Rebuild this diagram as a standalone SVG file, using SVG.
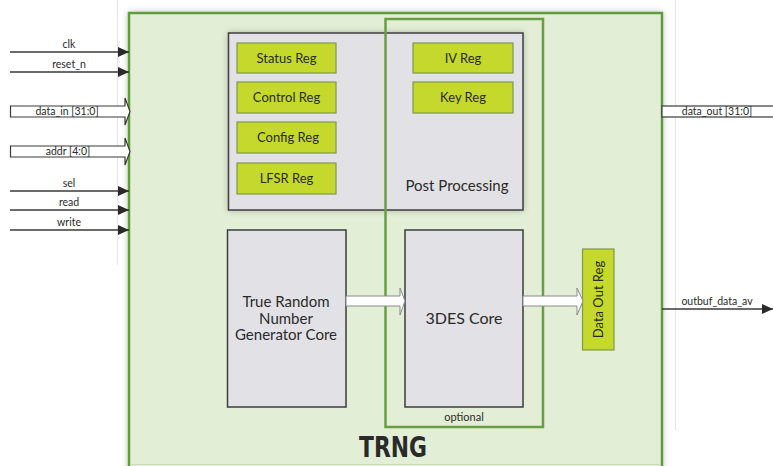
<svg xmlns="http://www.w3.org/2000/svg" width="773" height="466" viewBox="0 0 773 466">
<style>
.lbl{font-family:Lato,"Open Sans","Liberation Sans",sans-serif;fill:#2a2a2a}
.sig{font-size:10.5px;text-anchor:middle}
.reg rect{fill:#c4d92b;stroke:#7f9a4a;stroke-width:1.2}
.reg text{font-size:13px;text-anchor:middle;font-family:Lato,"Open Sans","Liberation Sans",sans-serif;fill:#2a2a2a}
.panel{fill:#e2e2e6;stroke:#3c3c3c;stroke-width:1.5}
.wire{stroke:#3a3a3a;stroke-width:1.5;fill:none}
.bus{fill:#fff;stroke:#3a3a3a;stroke-width:1.2}
.fat{fill:#fff;stroke:#8a8a8a;stroke-width:1}
</style>
<defs>
<marker id="ah" viewBox="0 0 11 10" refX="11" refY="5" markerWidth="11" markerHeight="10" markerUnits="userSpaceOnUse" orient="auto"><path d="M0,0 L11,5 L0,10 Z" fill="#2a2a2a"/></marker>
<filter id="sh" x="-10%" y="-10%" width="120%" height="120%"><feGaussianBlur in="SourceAlpha" stdDeviation="3"/><feComponentTransfer><feFuncA type="linear" slope="0.25"/></feComponentTransfer><feMerge><feMergeNode/><feMergeNode in="SourceGraphic"/></feMerge></filter>
</defs>
<rect width="773" height="466" fill="#fff"/>
<line x1="117.5" y1="0" x2="117.5" y2="265" stroke="#e6e6e6" stroke-width="1"/>
<line x1="675.5" y1="0" x2="675.5" y2="430" stroke="#e6e6e6" stroke-width="1"/>

<g id="trng">
<rect x="129" y="13" width="533" height="458" fill="#e3eed6" stroke="#5e9c3a" stroke-width="2.5" filter="url(#sh)"/>
<line x1="130" y1="464.5" x2="661" y2="464.5" stroke="#c8dcb4" stroke-width="1"/>
<text x="393" y="457" font-family="'Liberation Sans Narrow','DejaVu Sans Condensed','Liberation Sans',sans-serif" font-weight="bold" font-size="29" text-anchor="middle" fill="#2a2a2a" textLength="68" lengthAdjust="spacingAndGlyphs">TRNG</text>
</g>

<g id="regpanel">
<rect class="panel" x="228.5" y="33" width="294.5" height="177" filter="url(#sh)"/>
<text class="lbl" x="457" y="191" font-size="15" text-anchor="middle">Post Processing</text>
</g>

<g id="status" class="reg"><rect x="237" y="43" width="99" height="30"/><text x="286.5" y="62.5">Status Reg</text></g>
<g id="control" class="reg"><rect x="237" y="82" width="99" height="31"/><text x="286.5" y="102">Control Reg</text></g>
<g id="config" class="reg"><rect x="237" y="122" width="99" height="31"/><text x="288" y="142">Config Reg</text></g>
<g id="lfsr" class="reg"><rect x="237" y="163" width="99" height="31"/><text x="286.5" y="183">LFSR Reg</text></g>
<g id="iv" class="reg"><rect x="413" y="43" width="100" height="30"/><text x="463" y="62.5">IV Reg</text></g>
<g id="key" class="reg"><rect x="413" y="82" width="100" height="31"/><text x="463" y="102">Key Reg</text></g>

<g id="trngcore">
<rect class="panel" x="227.5" y="230" width="118.5" height="177"/>
<text class="lbl" font-size="15" text-anchor="middle"><tspan x="286" y="307">True Random</tspan><tspan x="286" y="323.5">Number</tspan><tspan x="286" y="340">Generator Core</tspan></text>
</g>

<g id="des">
<rect class="panel" x="405" y="230" width="118" height="177"/>
<text class="lbl" x="464" y="324" font-size="16" text-anchor="middle">3DES Core</text>
</g>

<g id="optional">
<rect x="385.5" y="19" width="157.5" height="408" fill="none" stroke="#6a9e45" stroke-width="2.5"/>
<text class="lbl" x="464" y="421" font-size="11" text-anchor="middle">optional</text>
</g>

<g id="dataout" class="reg">
<rect x="582.5" y="249" width="31.5" height="101"/>
<text transform="translate(602.5,299.5) rotate(-90)" x="0" y="0" font-size="12">Data Out Reg</text>
</g>

<g id="connectors">
<polygon class="fat" points="346,296 400,296 400,288 405,301 400,315 400,306 346,306"/>
<polygon class="fat" points="523,296 577,296 577,288 583,301 577,315 577,306 523,306"/>

<line class="wire" x1="10" y1="52" x2="129" y2="52" marker-end="url(#ah)"/>
<line class="wire" x1="10" y1="72" x2="129" y2="72" marker-end="url(#ah)"/>
<polygon class="bus" points="10.5,106 125,106 125,98 130,111.5 125,125 125,117 10.5,117"/>
<polygon class="bus" points="10.5,146 125,146 125,138 130,151.5 125,165 125,157 10.5,157"/>
<line class="wire" x1="10" y1="191" x2="129" y2="191" marker-end="url(#ah)"/>
<line class="wire" x1="10" y1="210" x2="129" y2="210" marker-end="url(#ah)"/>
<line class="wire" x1="10" y1="230" x2="129" y2="230" marker-end="url(#ah)"/>
<rect class="bus" x="662" y="106" width="115" height="11"/>
<line class="wire" x1="662" y1="309" x2="773" y2="309" marker-end="url(#ah)"/>

<text class="lbl sig" x="69" y="48">clk</text>
<text class="lbl sig" x="69" y="68">reset_n</text>
<text class="lbl sig" x="67" y="115">data_in [31:0]</text>
<text class="lbl sig" x="68" y="155">addr [4:0]</text>
<text class="lbl sig" x="69" y="187">sel</text>
<text class="lbl sig" x="69" y="206">read</text>
<text class="lbl sig" x="69" y="226">write</text>
<text class="lbl sig" x="717" y="115">data_out [31:0]</text>
<text class="lbl sig" x="717" y="305">outbuf_data_av</text>
</g>
</svg>
